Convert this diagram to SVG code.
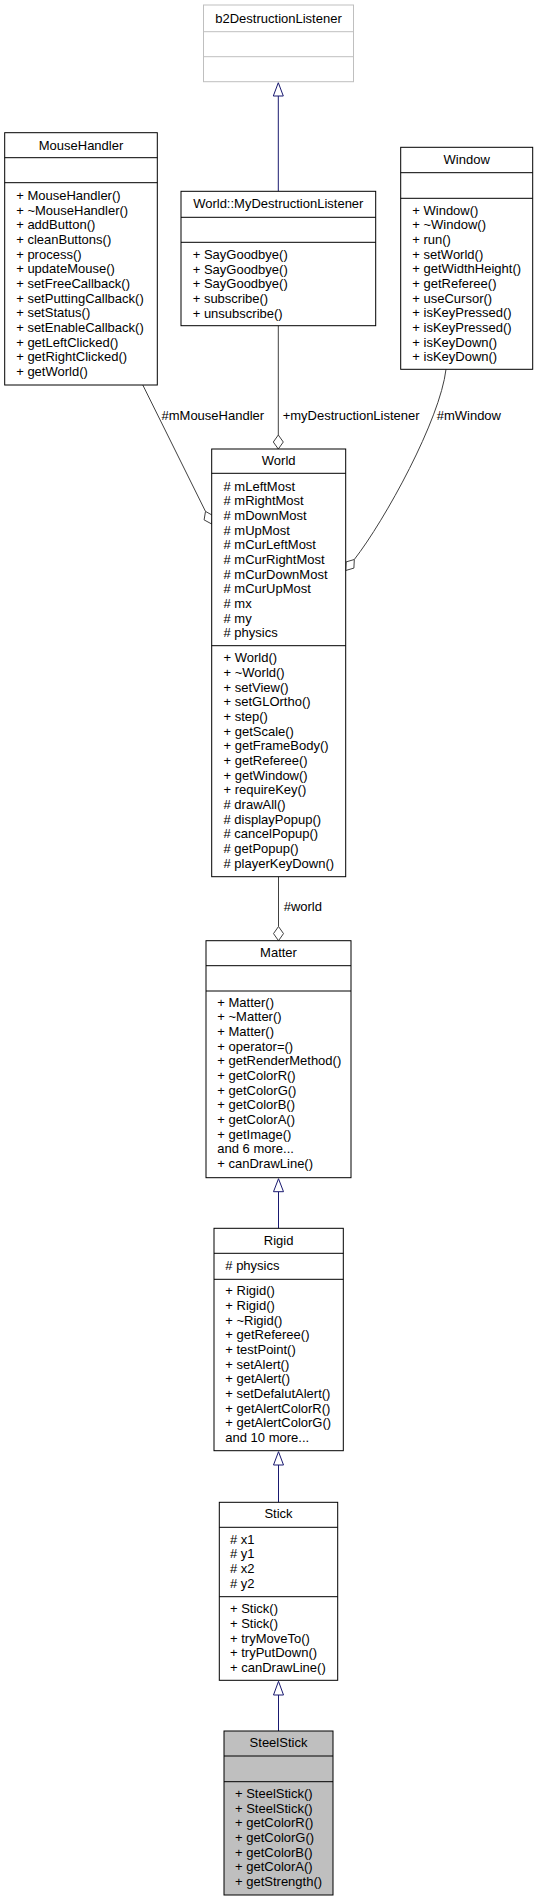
<svg xmlns="http://www.w3.org/2000/svg" width="538" height="1901" viewBox="0 0 538 1901">
<style>
text{font-family:"Liberation Sans",Arial,Helvetica,sans-serif;font-size:13px;fill:#000}
.c{text-anchor:middle}
.box{fill:#fff;stroke:#000;stroke-width:1}
.grey{fill:#fff;stroke:#bfbfbf;stroke-width:1}
.sel{fill:#bfbfbf;stroke:#000;stroke-width:1}
.div{stroke:#000;stroke-width:1}
.gdiv{stroke:#bfbfbf;stroke-width:1}
.inh{stroke:#191970;stroke-width:1;fill:none}
.inhh{stroke:#191970;stroke-width:1;fill:#fff}
.use{stroke:#404040;stroke-width:1;fill:none}
.useh{stroke:#404040;stroke-width:1;fill:#fff}
</style>
<rect width="538" height="1901" fill="#fff"/>

<g id="connectors">
  <!-- MyDestructionListener inherits b2DestructionListener -->
  <line class="inh" x1="278.3" y1="191.3" x2="278.3" y2="96"/>
  <polygon class="inhh" points="278.3,82.7 273.3,96 283.3,96"/>
  <!-- MyDestructionListener -> World -->
  <line class="use" x1="278.3" y1="325.7" x2="278.3" y2="435"/>
  <polygon class="useh" points="278.3,435 283.3,442 278.3,449 273.3,442"/>
  <text x="282.7" y="419.5">+myDestructionListener</text>
  <!-- MouseHandler -> World -->
  <line class="use" x1="142.7" y1="384.8" x2="205.5" y2="511.4"/>
  <polygon class="useh" points="205.5,511.4 212.8,515.5 211.7,524 204.1,519.9"/>
  <text x="161.5" y="419.5">#mMouseHandler</text>
  <!-- Window -> World -->
  <path class="use" d="M446,369.3 C440,420 385,520 354.3,559.5"/>
  <polygon class="useh" points="354.3,559.5 353.9,568.1 345.7,570.5 346.1,561.9"/>
  <text x="436.7" y="420">#mWindow</text>
  <!-- World -> Matter -->
  <line class="use" x1="278.5" y1="876.7" x2="278.5" y2="926.5"/>
  <polygon class="useh" points="278.5,926.5 283.5,933.6 278.5,940.7 273.5,933.6"/>
  <text x="283.7" y="911">#world</text>
  <!-- Rigid inherits Matter -->
  <line class="inh" x1="278.5" y1="1228.3" x2="278.5" y2="1191.7"/>
  <polygon class="inhh" points="278.5,1178.7 273.5,1191.7 283.5,1191.7"/>
  <!-- Stick inherits Rigid -->
  <line class="inh" x1="278.5" y1="1502.3" x2="278.5" y2="1465"/>
  <polygon class="inhh" points="278.5,1451.7 273.5,1465 283.5,1465"/>
  <!-- SteelStick inherits Stick -->
  <line class="inh" x1="278.5" y1="1731" x2="278.5" y2="1695"/>
  <polygon class="inhh" points="278.5,1681.3 273.5,1695 283.5,1695"/>
</g>

<g id="b2DestructionListener">
  <rect class="grey" x="203.5" y="5" width="150" height="76.7"/>
  <line class="gdiv" x1="203.5" y1="31.7" x2="353.5" y2="31.7"/>
  <line class="gdiv" x1="203.5" y1="56.7" x2="353.5" y2="56.7"/>
  <text class="c" x="278.5" y="22.5">b2DestructionListener</text>
</g>

<g id="MouseHandler">
  <rect class="box" x="4.7" y="132.7" width="152.6" height="252.3"/>
  <line class="div" x1="4.7" y1="157.7" x2="157.3" y2="157.7"/>
  <line class="div" x1="4.7" y1="182.7" x2="157.3" y2="182.7"/>
  <text class="c" x="81" y="149.5">MouseHandler</text>
  <text x="16.2" y="199.8">+ MouseHandler()</text>
  <text x="16.2" y="214.5">+ ~MouseHandler()</text>
  <text x="16.2" y="229.1">+ addButton()</text>
  <text x="16.2" y="243.8">+ cleanButtons()</text>
  <text x="16.2" y="258.5">+ process()</text>
  <text x="16.2" y="273.2">+ updateMouse()</text>
  <text x="16.2" y="287.8">+ setFreeCallback()</text>
  <text x="16.2" y="302.5">+ setPuttingCallback()</text>
  <text x="16.2" y="317.2">+ setStatus()</text>
  <text x="16.2" y="331.8">+ setEnableCallback()</text>
  <text x="16.2" y="346.5">+ getLeftClicked()</text>
  <text x="16.2" y="361.2">+ getRightClicked()</text>
  <text x="16.2" y="375.8">+ getWorld()</text>
</g>

<g id="MyDestructionListener">
  <rect class="box" x="181" y="191.3" width="194.7" height="134.4"/>
  <line class="div" x1="181" y1="217.3" x2="375.7" y2="217.3"/>
  <line class="div" x1="181" y1="242.3" x2="375.7" y2="242.3"/>
  <text class="c" x="278.3" y="207.8">World::MyDestructionListener</text>
  <text x="192.7" y="258.8">+ SayGoodbye()</text>
  <text x="192.7" y="273.5">+ SayGoodbye()</text>
  <text x="192.7" y="288.1">+ SayGoodbye()</text>
  <text x="192.7" y="302.8">+ subscribe()</text>
  <text x="192.7" y="317.5">+ unsubscribe()</text>
</g>

<g id="Window">
  <rect class="box" x="400.7" y="147.3" width="132" height="222"/>
  <line class="div" x1="400.7" y1="172.7" x2="532.7" y2="172.7"/>
  <line class="div" x1="400.7" y1="198.3" x2="532.7" y2="198.3"/>
  <text class="c" x="466.7" y="163.8">Window</text>
  <text x="412.3" y="214.5">+ Window()</text>
  <text x="412.3" y="229.2">+ ~Window()</text>
  <text x="412.3" y="243.8">+ run()</text>
  <text x="412.3" y="258.5">+ setWorld()</text>
  <text x="412.3" y="273.2">+ getWidthHeight()</text>
  <text x="412.3" y="287.8">+ getReferee()</text>
  <text x="412.3" y="302.5">+ useCursor()</text>
  <text x="412.3" y="317.2">+ isKeyPressed()</text>
  <text x="412.3" y="331.9">+ isKeyPressed()</text>
  <text x="412.3" y="346.5">+ isKeyDown()</text>
  <text x="412.3" y="361.2">+ isKeyDown()</text>
</g>

<g id="World">
  <rect class="box" x="211.7" y="449" width="134" height="427.7"/>
  <line class="div" x1="211.7" y1="473.3" x2="345.7" y2="473.3"/>
  <line class="div" x1="211.7" y1="645.7" x2="345.7" y2="645.7"/>
  <text class="c" x="278.7" y="464.5">World</text>
  <text x="223.5" y="490.5"># mLeftMost</text>
  <text x="223.5" y="505.2"># mRightMost</text>
  <text x="223.5" y="519.8"># mDownMost</text>
  <text x="223.5" y="534.5"># mUpMost</text>
  <text x="223.5" y="549.2"># mCurLeftMost</text>
  <text x="223.5" y="563.9"># mCurRightMost</text>
  <text x="223.5" y="578.5"># mCurDownMost</text>
  <text x="223.5" y="593.2"># mCurUpMost</text>
  <text x="223.5" y="607.9"># mx</text>
  <text x="223.5" y="622.5"># my</text>
  <text x="223.5" y="637.2"># physics</text>
  <text x="223.5" y="662.2">+ World()</text>
  <text x="223.5" y="676.9">+ ~World()</text>
  <text x="223.5" y="691.5">+ setView()</text>
  <text x="223.5" y="706.2">+ setGLOrtho()</text>
  <text x="223.5" y="720.9">+ step()</text>
  <text x="223.5" y="735.6">+ getScale()</text>
  <text x="223.5" y="750.2">+ getFrameBody()</text>
  <text x="223.5" y="764.9">+ getReferee()</text>
  <text x="223.5" y="779.6">+ getWindow()</text>
  <text x="223.5" y="794.2">+ requireKey()</text>
  <text x="223.5" y="808.9"># drawAll()</text>
  <text x="223.5" y="823.6"># displayPopup()</text>
  <text x="223.5" y="838.2"># cancelPopup()</text>
  <text x="223.5" y="852.9"># getPopup()</text>
  <text x="223.5" y="867.6"># playerKeyDown()</text>
</g>

<g id="Matter">
  <rect class="box" x="206" y="940.7" width="145" height="237"/>
  <line class="div" x1="206" y1="965.7" x2="351" y2="965.7"/>
  <line class="div" x1="206" y1="991" x2="351" y2="991"/>
  <text class="c" x="278.5" y="956.8">Matter</text>
  <text x="217.3" y="1006.5">+ Matter()</text>
  <text x="217.3" y="1021.2">+ ~Matter()</text>
  <text x="217.3" y="1035.8">+ Matter()</text>
  <text x="217.3" y="1050.5">+ operator=()</text>
  <text x="217.3" y="1065.2">+ getRenderMethod()</text>
  <text x="217.3" y="1079.9">+ getColorR()</text>
  <text x="217.3" y="1094.5">+ getColorG()</text>
  <text x="217.3" y="1109.2">+ getColorB()</text>
  <text x="217.3" y="1123.9">+ getColorA()</text>
  <text x="217.3" y="1138.5">+ getImage()</text>
  <text x="217.3" y="1153.2">and 6 more...</text>
  <text x="217.3" y="1167.9">+ canDrawLine()</text>
</g>

<g id="Rigid">
  <rect class="box" x="214" y="1228.3" width="129.3" height="222.4"/>
  <line class="div" x1="214" y1="1253.3" x2="343.3" y2="1253.3"/>
  <line class="div" x1="214" y1="1279.3" x2="343.3" y2="1279.3"/>
  <text class="c" x="278.6" y="1244.5">Rigid</text>
  <text x="225.3" y="1270.2"># physics</text>
  <text x="225.3" y="1295.2">+ Rigid()</text>
  <text x="225.3" y="1309.9">+ Rigid()</text>
  <text x="225.3" y="1324.5">+ ~Rigid()</text>
  <text x="225.3" y="1339.2">+ getReferee()</text>
  <text x="225.3" y="1353.9">+ testPoint()</text>
  <text x="225.3" y="1368.6">+ setAlert()</text>
  <text x="225.3" y="1383.2">+ getAlert()</text>
  <text x="225.3" y="1397.9">+ setDefalutAlert()</text>
  <text x="225.3" y="1412.6">+ getAlertColorR()</text>
  <text x="225.3" y="1427.2">+ getAlertColorG()</text>
  <text x="225.3" y="1441.9">and 10 more...</text>
</g>

<g id="Stick">
  <rect class="box" x="219.3" y="1502.3" width="118.4" height="178"/>
  <line class="div" x1="219.3" y1="1527.3" x2="337.7" y2="1527.3"/>
  <line class="div" x1="219.3" y1="1596.7" x2="337.7" y2="1596.7"/>
  <text class="c" x="278.5" y="1517.8">Stick</text>
  <text x="230" y="1543.5"># x1</text>
  <text x="230" y="1558.2"># y1</text>
  <text x="230" y="1572.8"># x2</text>
  <text x="230" y="1587.5"># y2</text>
  <text x="230" y="1613.2">+ Stick()</text>
  <text x="230" y="1627.9">+ Stick()</text>
  <text x="230" y="1642.5">+ tryMoveTo()</text>
  <text x="230" y="1657.2">+ tryPutDown()</text>
  <text x="230" y="1671.9">+ canDrawLine()</text>
</g>

<g id="SteelStick">
  <rect class="sel" x="224" y="1731" width="109" height="164"/>
  <line class="div" x1="224" y1="1756" x2="333" y2="1756"/>
  <line class="div" x1="224" y1="1781.7" x2="333" y2="1781.7"/>
  <text class="c" x="278.5" y="1746.8">SteelStick</text>
  <text x="235" y="1797.8">+ SteelStick()</text>
  <text x="235" y="1812.5">+ SteelStick()</text>
  <text x="235" y="1827.1">+ getColorR()</text>
  <text x="235" y="1841.8">+ getColorG()</text>
  <text x="235" y="1856.5">+ getColorB()</text>
  <text x="235" y="1871.2">+ getColorA()</text>
  <text x="235" y="1885.8">+ getStrength()</text>
</g>
</svg>
